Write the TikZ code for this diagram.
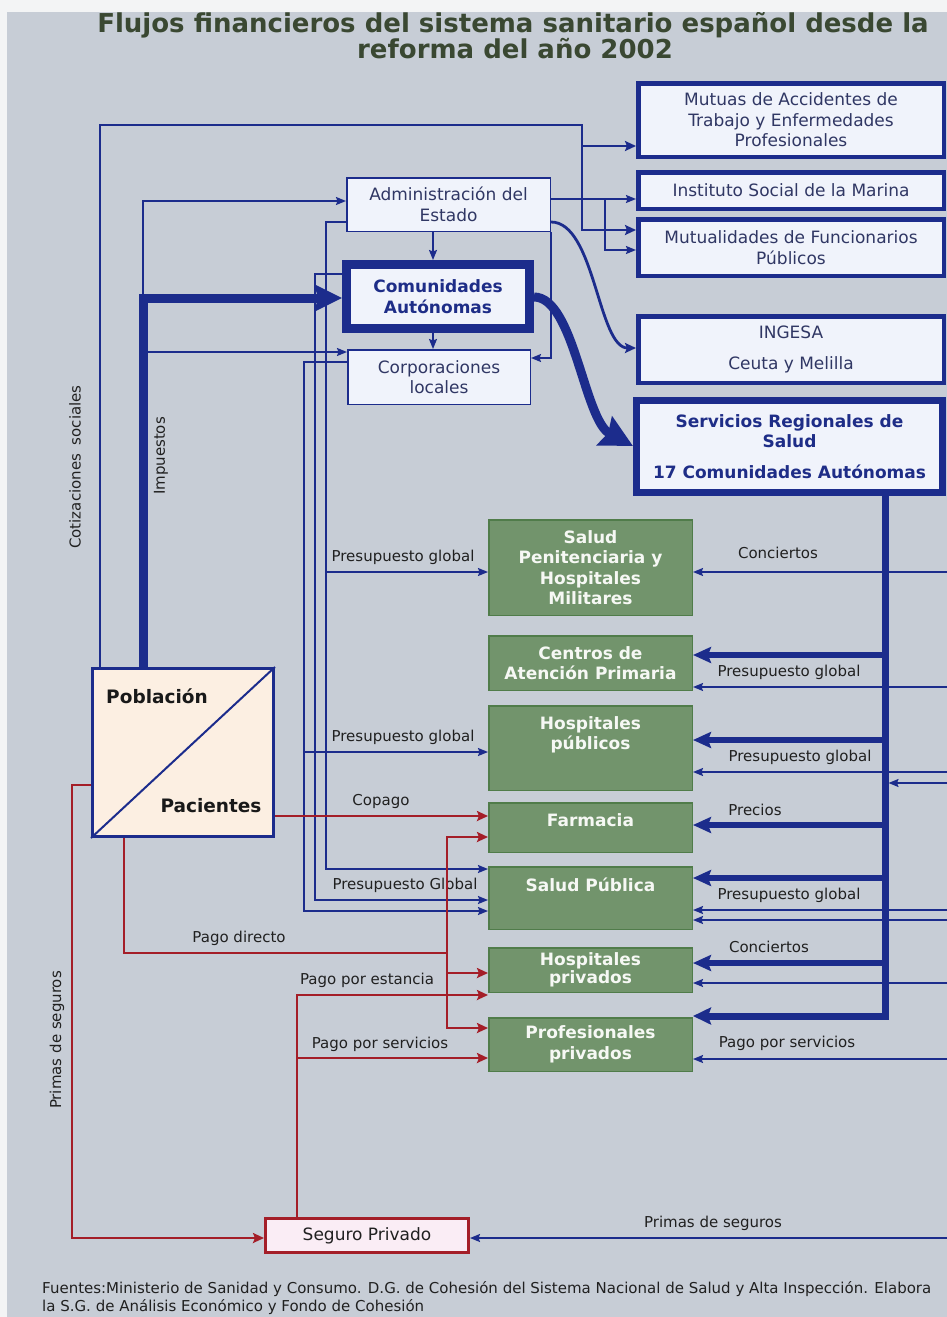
\documentclass[tikz,border=0pt]{standalone}
\usepackage{fontspec}
\setmainfont{DejaVu Sans}
\usetikzlibrary{arrows.meta}

\definecolor{paper}{RGB}{199,205,214}
\definecolor{edge}{RGB}{243,244,245}
\definecolor{navy}{RGB}{28,44,140}
\definecolor{boxfill}{RGB}{240,243,251}
\definecolor{boxtext}{RGB}{48,55,100}
\definecolor{catext}{RGB}{30,45,135}
\definecolor{gfill}{RGB}{114,148,108}
\definecolor{gline}{RGB}{80,124,74}
\definecolor{gtext}{RGB}{246,248,244}
\definecolor{dred}{RGB}{164,30,40}
\definecolor{peach}{RGB}{252,239,226}
\definecolor{pinkfill}{RGB}{250,237,245}
\definecolor{titlecol}{RGB}{58,72,50}
\definecolor{ink}{RGB}{32,32,32}

\tikzset{
  bluebox/.style={draw=navy, fill=boxfill, line width=4.5pt, inner sep=0pt, align=center,
    anchor=north west, text=boxtext, font=\fontsize{17}{20.5}\selectfont},
  lightbox/.style={bluebox, line width=1.5pt},
  heavybox/.style={bluebox, text=catext, font=\bfseries\fontsize{17}{20.5}\selectfont},
  greenbox/.style={draw=gline, fill=gfill, line width=1.5pt, inner sep=0pt, align=center,
    anchor=north west, minimum width=203.5pt, text=gtext, font=\bfseries\fontsize{17}{20.5}\selectfont},
  greentext/.style={text=gtext, font=\bfseries\fontsize{17}{20.5}\selectfont, align=center, inner sep=0pt},
  flowlabel/.style={text=ink, font=\fontsize{15}{18}\selectfont, inner sep=0pt},
  wire/.style={draw=navy, line width=1.6pt},
  wirearr/.style={wire, -{Stealth[length=10pt,width=8pt,inset=1.5pt]}},
  cotline/.style={draw=navy, line width=2.8pt},
  cotarr/.style={cotline, -{Stealth[length=11pt,width=10pt,inset=2pt]}},
  feed/.style={draw=navy, line width=5.5pt, -{Stealth[length=18pt,width=16pt,inset=3pt]}},
  payline/.style={draw=dred, line width=2.8pt},
  payarr/.style={payline, -{Stealth[length=11pt,width=10pt,inset=2pt]}},
}

\begin{document}
\begin{tikzpicture}[x=1pt, y=-1pt, line join=miter]
\useasboundingbox (0,0) rectangle (947,1317);
\fill[paper] (0,0) rectangle (947,1317);

% ---------- title ----------
\node[anchor=base, text=titlecol, font=\bfseries\fontsize{26}{30}\selectfont, inner sep=0pt]
  (title1) at (513,32) {Flujos financieros del sistema sanitario español desde la};
\node[anchor=base, text=titlecol, font=\bfseries\fontsize{26}{30}\selectfont, inner sep=0pt]
  (title2) at (515,58) {reforma del año 2002};

% ---------- financing bodies ----------
\node[bluebox, minimum width=305.5pt, minimum height=73.5pt] (mutuas) at (636,81)
  {Mutuas de Accidentes de\\Trabajo y Enfermedades\\Profesionales};
\node[bluebox, minimum width=305.5pt, minimum height=36.5pt] (ism) at (636,170)
  {Instituto Social de la Marina};
\node[bluebox, minimum width=305.5pt, minimum height=56.5pt] (mutfun) at (636,217)
  {Mutualidades de Funcionarios\\Públicos};
\node[bluebox, minimum width=305.5pt, minimum height=66.5pt] (ingesa) at (636,314)
  {INGESA\\[10pt]Ceuta y Melilla};
\node[heavybox, line width=7pt, minimum width=306pt, minimum height=92pt] (srs) at (633,397)
  {Servicios Regionales de\\Salud\\[10pt]17 Comunidades Autónomas};

\node[lightbox, minimum width=203.5pt, minimum height=53.5pt] (adm) at (346,177)
  {Administración del\\Estado};
\node[heavybox, line width=9pt, minimum width=183pt, minimum height=64pt] (ca) at (342,260)
  {Comunidades\\Autónomas};
\node[lightbox, minimum width=182.5pt, minimum height=54.5pt] (corp) at (347,349)
  {Corporaciones\\locales};

% ---------- providers ----------
\node[greenbox, minimum height=95.5pt] (pen) at (488,519)
  {Salud\\Penitenciaria y\\Hospitales\\Militares};
\node[greenbox, minimum height=54.5pt] (cap) at (488,635) {Centros de\\Atención Primaria};
\node[greenbox, minimum height=84.5pt] (hpub) at (488,705) {};
\node[greentext] (hpub-t) at (590.5,735) {Hospitales\\públicos};
\node[greenbox, minimum height=49.5pt] (farm) at (488,802) {};
\node[greentext] (farm-t) at (590.5,820) {Farmacia};
\node[greenbox, minimum height=62.5pt] (sp) at (488,866) {};
\node[greentext] (sp-t) at (590.5,885) {Salud Pública};
\node[greenbox, font=\bfseries\fontsize{17}{15}\selectfont, minimum height=44.5pt] (hpriv) at (488,947)
  {Hospitales\\privados};
\node[greenbox, minimum height=53.5pt] (prof) at (488,1017) {Profesionales\\privados};

% ---------- population / patients ----------
\node[draw=navy, fill=peach, line width=3pt, minimum width=181pt, minimum height=168pt,
  anchor=north west, inner sep=0pt] (pob) at (91,667) {};
\draw[navy, line width=2pt] (pob.south west) -- (pob.north east);
\node[font=\bfseries\fontsize{18.5}{22}\selectfont, text=black!90, inner sep=0pt] (pobl) at (157,696) {Población};
\node[font=\bfseries\fontsize{18.5}{22}\selectfont, text=black!90, inner sep=0pt] (paci) at (211,806) {Pacientes};

% ---------- private insurance ----------
\node[draw=dred, fill=pinkfill, line width=3pt, minimum width=203pt, minimum height=34pt,
  anchor=north west, inner sep=0pt, text=ink, font=\fontsize{17}{20}\selectfont] (seg) at (264,1217)
  {Seguro Privado};

% ---------- flow labels ----------
\node[flowlabel, rotate=90] (l-cot) at (75,467) {Cotizaciones\hspace{4pt} sociales};
\node[flowlabel, rotate=90] (l-imp) at (161,456) {Impuestos};
\node[flowlabel, rotate=90] (l-pri) at (57,1040) {Primas de seguros};
\node[flowlabel] (l-pg1) at (403,557) {Presupuesto global};
\node[flowlabel] (l-pg2) at (403,737) {Presupuesto global};
\node[flowlabel] (l-cop) at (381,801) {Copago};
\node[flowlabel] (l-pg3) at (405,885) {Presupuesto Global};
\node[flowlabel] (l-pd)  at (239,938) {Pago directo};
\node[flowlabel] (l-pe)  at (367,980) {Pago por estancia};
\node[flowlabel] (l-ps)  at (380,1044) {Pago por servicios};
\node[flowlabel] (r-con1) at (778,553) {Conciertos};
\node[flowlabel] (r-pg1) at (789,672) {Presupuesto global};
\node[flowlabel] (r-pg2) at (800,757) {Presupuesto global};
\node[flowlabel] (r-pre) at (755,810) {Precios};
\node[flowlabel] (r-pg3) at (789,895) {Presupuesto global};
\node[flowlabel] (r-con2) at (769,947) {Conciertos};
\node[flowlabel] (r-ps)  at (787,1043) {Pago por servicios};
\node[flowlabel] (r-pri) at (713,1223) {Primas de seguros};

% ---------- social contributions ----------
\coordinate (cotL) at (100,125);
\coordinate (cotR) at (582,125);
\coordinate (cotB) at (582,146);
\draw[cotarr] (pob.north -| cotL) -- (cotL) -- (cotR) |- (mutfun.west |- 0,230);
\draw[cotarr] (cotB) -- (mutuas.west |- cotB);

% ---------- taxes ----------
\coordinate (impC) at (143,298);
\coordinate (impT) at (143,201);
\coordinate (impM) at (143,352);
\draw[wirearr] (impC) -- (impT) -- (adm.west |- impT);
\draw[wirearr] (impM) -- (corp.west |- impM);
\draw[navy, line width=9pt, -{Stealth[length=27pt,width=26pt,inset=3pt]}]
  (pob.north -| impC) -- (impC) -- (ca.west |- impC);

% ---------- between administrations ----------
\draw[wirearr] (adm.south -| 433,0) -- (ca.north -| 433,0);
\draw[wirearr] (ca.south -| 433,0) -- (corp.north -| 433,0);
\draw[wirearr] (adm.south east) -- (adm.south east |- 0,358) -- (corp.east |- 0,358);
\coordinate (admJ) at (605,199);
\draw[wirearr] (adm.east |- admJ) -- (ism.west |- admJ);
\draw[wirearr] (admJ) |- (mutfun.west |- 0,250);
\draw[cotline, -{Stealth[length=11pt,width=10pt,inset=2pt]}]
  (adm.east |- 0,222) .. controls (595,222) and (598,348) .. (ingesa.west |- 0,348);
\draw[navy, line width=9pt, -{Stealth[length=32pt,width=32pt,inset=4pt]}]
  (ca.east |- 0,297) .. controls (574,297) and (584,420) .. (srs.west |- 0,446);

% ---------- global budgets from the administrations ----------
\draw[wirearr] (adm.west |- 0,222) -- (326,222) |- (sp.west |- 0,869);
\draw[wirearr] (326,572) -- (pen.west |- 0,572);
\draw[wirearr] (ca.west |- 0,274) -- (315,274) |- (sp.west |- 0,900);
\draw[wirearr] (corp.west |- 0,362) -- (304,362) |- (sp.west |- 0,911);
\draw[wirearr] (304,752) -- (hpub.west |- 0,752);

% ---------- incoming flows from the right ----------
\coordinate (inPen)  at (952,572);
\coordinate (inCap)  at (952,687);
\coordinate (inHpub) at (952,772);
\coordinate (inTrk)  at (952,783);
\coordinate (inSp1)  at (952,910);
\coordinate (inSp2)  at (952,920);
\coordinate (inHpr)  at (952,983);
\coordinate (inProf) at (952,1059);
\coordinate (inSeg)  at (952,1238);
\coordinate (trkIn)  at (888.5,783);
\draw[wirearr] (inPen) -- (pen.east |- inPen);
\draw[wirearr] (inCap) -- (cap.east |- inCap);
\draw[wirearr] (inHpub) -- (hpub.east |- inHpub);
\draw[wirearr] (inTrk) -- (trkIn);
\draw[wirearr] (inSp1) -- (sp.east |- inSp1);
\draw[wirearr] (inSp2) -- (sp.east |- inSp2);
\draw[wirearr] (inHpr) -- (hpriv.east |- inHpr);
\draw[wirearr] (inProf) -- (prof.east |- inProf);
\draw[wirearr] (inSeg) -- (seg.east |- inSeg);

% ---------- regional health services trunk ----------
\coordinate (trkBot) at (885,1016);
\draw[navy, line width=7pt, -{Stealth[length=18pt,width=17pt,inset=3pt]}]
  (srs.south -| trkBot) -- (trkBot) -- (prof.east |- trkBot);
\draw[feed] (885,655) -- (cap.east |- 0,655);
\draw[feed] (885,740) -- (hpub.east |- 0,740);
\draw[feed] (885,825) -- (farm.east |- 0,825);
\draw[feed] (885,878) -- (sp.east |- 0,878);
\draw[feed] (885,963) -- (hpriv.east |- 0,963);

% ---------- out-of-pocket and private payments ----------
\draw[payarr] (pob.east |- 0,816) -- (farm.west |- 0,816);
\coordinate (pdJ) at (447,953);
\draw[payline] (pob.south -| 124,0) |- (pdJ);
\draw[payarr] (pdJ) |- (farm.west |- 0,837);
\draw[payarr] (pdJ) |- (prof.west |- 0,1028);
\draw[payarr] (447,973) -- (hpriv.west |- 0,973);
\draw[payarr] (seg.north -| 297,0) |- (hpriv.west |- 0,995);
\draw[payarr] (297,1058) -- (prof.west |- 0,1058);
\draw[payarr] (pob.west |- 0,785) -| (72,1238) -- (seg.west |- 0,1238);

% ---------- sources ----------
\node[anchor=base west, text=ink, font=\fontsize{15}{18}\selectfont, inner sep=0pt] (src1) at (42,1293)
  {Fuentes:Ministerio de Sanidad y Consumo. D.G. de Cohesión del Sistema Nacional de Salud y Alta Inspección. Elabora};
\node[anchor=base west, text=ink, font=\fontsize{15}{18}\selectfont, inner sep=0pt] (src2) at (42,1311)
  {la S.G. de Análisis Económico y Fondo de Cohesión};

% ---------- paper edges ----------
\fill[edge] (0,0) rectangle (947,12);
\fill[edge] (0,0) rectangle (7,1317);
\end{tikzpicture}
\end{document}
